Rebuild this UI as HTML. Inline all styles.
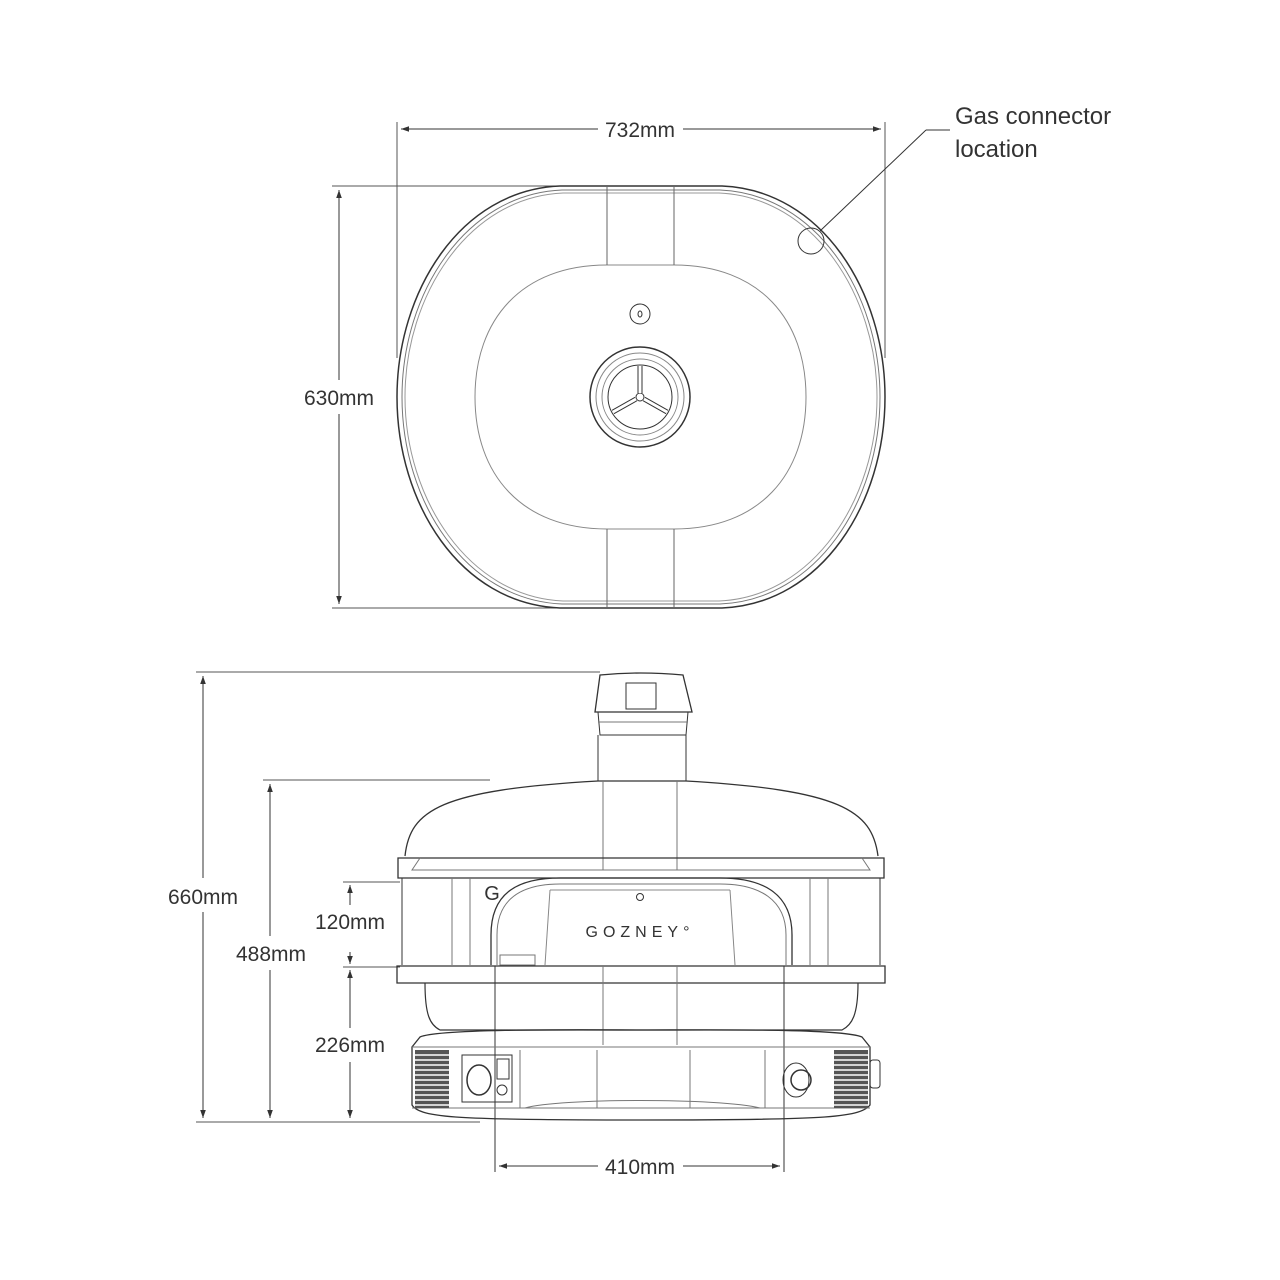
<!DOCTYPE html>
<html><head><meta charset="utf-8"><style>
html,body{margin:0;padding:0;background:#fff;}
svg{display:block;}
text{font-family:"Liberation Sans",sans-serif;fill:#333;}
</style></head><body>
<svg width="1280" height="1280" viewBox="0 0 1280 1280" xmlns="http://www.w3.org/2000/svg">
<defs>
<marker id="a" viewBox="0 0 10 10" refX="10" refY="5" markerWidth="8" markerHeight="8" orient="auto-start-reverse"><path d="M0,1.5 L10,5 L0,8.5 Z" fill="#333"/></marker>
</defs>
<g stroke="#333" fill="none" stroke-width="1">
<line x1="397" y1="122" x2="397" y2="358" stroke="#555"/>
<line x1="885" y1="122" x2="885" y2="358" stroke="#555"/>
<line x1="401" y1="129" x2="598" y2="129" marker-start="url(#a)"/>
<line x1="683" y1="129" x2="881" y2="129" marker-end="url(#a)"/>
<line x1="332" y1="186" x2="566" y2="186" stroke="#555"/>
<line x1="332" y1="608" x2="566" y2="608" stroke="#555"/>
<line x1="339" y1="190" x2="339" y2="380" marker-start="url(#a)"/>
<line x1="339" y1="414" x2="339" y2="604" marker-end="url(#a)"/>
<path d="M560 186 L722 186 C822 190 885 292 885 397 C885 503 822 604 722 608 L560 608 C460 604 397 503 397 397 C397 292 460 190 560 186 Z" stroke-width="1.5"/>
<path d="M562 190 L720 190 C817 194 880 294 880 397 C880 501 817 600 720 604 L562 604 C465 600 402 501 402 397 C402 294 465 194 562 190 Z" stroke="#777"/>
<path d="M563 193 L719 193 C814 197 877 296 877 397 C877 498 814 597 719 601 L563 601 C468 597 405 498 405 397 C405 296 468 197 563 193 Z" stroke="#999"/>
<path d="M607 265 L674 265 C760 265 806 320 806 397 C806 474 760 529 674 529 L607 529 C521 529 475 474 475 397 C475 320 521 265 607 265 Z" stroke="#888"/>
<line x1="607" y1="186" x2="607" y2="265" stroke="#666"/>
<line x1="674" y1="186" x2="674" y2="265" stroke="#666"/>
<line x1="607" y1="529" x2="607" y2="608" stroke="#666"/>
<line x1="674" y1="529" x2="674" y2="608" stroke="#666"/>
<circle cx="640" cy="314" r="10"/>
<ellipse cx="640" cy="314" rx="2" ry="3"/>
<circle cx="640" cy="397" r="50" stroke-width="1.5"/>
<circle cx="640" cy="397" r="44" stroke="#888"/>
<circle cx="640" cy="397" r="38" stroke="#888"/>
<circle cx="640" cy="397" r="32"/>
<circle cx="640" cy="397" r="4"/>
<path d="M640 393 L640 366 M636 399 L613 412 M644 399 L667 412" stroke-width="5" stroke="#333"/>
<path d="M640 393 L640 366 M636 399 L613 412 M644 399 L667 412" stroke-width="3" stroke="#fff"/>
<circle cx="811" cy="241" r="13"/>
<line x1="820" y1="231" x2="926" y2="130"/>
<line x1="926" y1="130" x2="950" y2="130"/>

<line x1="196" y1="672" x2="600" y2="672" stroke="#555"/>
<line x1="196" y1="1122" x2="480" y2="1122" stroke="#555"/>
<line x1="263" y1="780" x2="490" y2="780" stroke="#555"/>
<line x1="343" y1="882" x2="400" y2="882" stroke="#555"/>
<line x1="343" y1="967" x2="400" y2="967" stroke="#555"/>
<line x1="203" y1="676" x2="203" y2="878" marker-start="url(#a)"/>
<line x1="203" y1="912" x2="203" y2="1118" marker-end="url(#a)"/>
<line x1="270" y1="784" x2="270" y2="936" marker-start="url(#a)"/>
<line x1="270" y1="970" x2="270" y2="1118" marker-end="url(#a)"/>
<line x1="350" y1="885" x2="350" y2="905" marker-start="url(#a)"/>
<line x1="350" y1="952" x2="350" y2="964" marker-end="url(#a)"/>
<line x1="350" y1="970" x2="350" y2="1028" marker-start="url(#a)"/>
<line x1="350" y1="1062" x2="350" y2="1118" marker-end="url(#a)"/>
<line x1="495" y1="966" x2="495" y2="1172"/>
<line x1="784" y1="966" x2="784" y2="1172"/>
<line x1="499" y1="1166" x2="598" y2="1166" marker-start="url(#a)"/>
<line x1="683" y1="1166" x2="780" y2="1166" marker-end="url(#a)"/>

<path d="M600 675 Q640 671 683 675 L692 712 L595 712 Z" stroke-width="1.3"/>
<rect x="626" y="683" width="30" height="26" />
<path d="M598 712 L688 712 L686 735 L600 735 Z"/>
<line x1="598" y1="722" x2="688" y2="722" stroke="#777"/>
<path d="M598 735 L598 781 M686 735 L686 781"/>
<path d="M405 856 C410 810 440 790 598 781 L686 781 C840 790 872 810 878 856" stroke-width="1.3"/>
<line x1="603" y1="781" x2="603" y2="870" stroke="#777"/>
<line x1="677" y1="781" x2="677" y2="870" stroke="#777"/>
<path d="M398 858 L884 858 L884 878 L398 878 Z" stroke-width="1.3"/>
<path d="M420 858 L412 870 L870 870 L862 858" stroke="#777"/>
<path d="M402 878 L402 965 M880 878 L880 965"/>
<line x1="452" y1="878" x2="452" y2="965" stroke="#777"/>
<line x1="470" y1="878" x2="470" y2="965" stroke="#777"/>
<line x1="810" y1="878" x2="810" y2="965" stroke="#777"/>
<line x1="828" y1="878" x2="828" y2="965" stroke="#777"/>
<path d="M491 965 L491 935 C491 895 515 878 560 878 L720 878 C765 878 792 895 792 935 L792 965" stroke-width="1.3"/>
<path d="M497 965 L497 935 C497 900 520 884 560 884 L720 884 C760 884 786 900 786 935 L786 965" stroke="#777"/>
<line x1="550" y1="890" x2="545" y2="965" stroke="#888"/>
<line x1="730" y1="890" x2="735" y2="965" stroke="#888"/>
<line x1="550" y1="890" x2="730" y2="890" stroke="#888"/>
<circle cx="640" cy="897" r="3.5"/>
<rect x="500" y="955" width="35" height="10" stroke="#777"/>
<path d="M397 966 L885 966 L885 983 L397 983 Z" stroke-width="1.3"/>
<path d="M425 983 C425 1015 430 1025 440 1030 L842 1030 C852 1025 858 1015 858 983" stroke-width="1.2"/>
<line x1="603" y1="966" x2="603" y2="1045" stroke="#777"/>
<line x1="677" y1="966" x2="677" y2="1045" stroke="#777"/>
<path d="M420 1037 C440 1028 600 1030 640 1030 C700 1030 840 1028 862 1037 L870 1047 L870 1105 C860 1118 820 1120 640 1120 C460 1120 420 1118 412 1105 L412 1047 Z" stroke-width="1.3"/>
<line x1="412" y1="1047" x2="870" y2="1047" stroke="#777"/>
<line x1="412" y1="1108" x2="870" y2="1108" stroke="#777"/>
<rect x="415" y="1050" width="34" height="58" fill="#555" stroke="none"/>
<rect x="834" y="1050" width="34" height="58" fill="#555" stroke="none"/>
<g stroke="#fff" stroke-width="1.4">
<line x1="415" y1="1055" x2="449" y2="1055"/><line x1="415" y1="1060" x2="449" y2="1060"/><line x1="415" y1="1065" x2="449" y2="1065"/><line x1="415" y1="1070" x2="449" y2="1070"/><line x1="415" y1="1075" x2="449" y2="1075"/><line x1="415" y1="1080" x2="449" y2="1080"/><line x1="415" y1="1085" x2="449" y2="1085"/><line x1="415" y1="1090" x2="449" y2="1090"/><line x1="415" y1="1095" x2="449" y2="1095"/><line x1="415" y1="1100" x2="449" y2="1100"/><line x1="415" y1="1105" x2="449" y2="1105"/>
<line x1="834" y1="1055" x2="868" y2="1055"/><line x1="834" y1="1060" x2="868" y2="1060"/><line x1="834" y1="1065" x2="868" y2="1065"/><line x1="834" y1="1070" x2="868" y2="1070"/><line x1="834" y1="1075" x2="868" y2="1075"/><line x1="834" y1="1080" x2="868" y2="1080"/><line x1="834" y1="1085" x2="868" y2="1085"/><line x1="834" y1="1090" x2="868" y2="1090"/><line x1="834" y1="1095" x2="868" y2="1095"/><line x1="834" y1="1100" x2="868" y2="1100"/><line x1="834" y1="1105" x2="868" y2="1105"/>
</g>
<rect x="462" y="1055" width="50" height="47"/>
<ellipse cx="479" cy="1080" rx="12" ry="15" stroke-width="1.5"/>
<rect x="497" y="1059" width="12" height="20"/>
<circle cx="502" cy="1090" r="5"/>
<line x1="520" y1="1050" x2="520" y2="1108" stroke="#777"/>
<line x1="597" y1="1050" x2="597" y2="1108" stroke="#777"/>
<line x1="690" y1="1050" x2="690" y2="1108" stroke="#777"/>
<line x1="765" y1="1050" x2="765" y2="1108" stroke="#777"/>
<path d="M525 1108 C560 1098 720 1098 760 1108" stroke="#777"/>
<ellipse cx="796" cy="1080" rx="13" ry="17"/>
<circle cx="801" cy="1080" r="10" stroke-width="1.5"/>
<rect x="870" y="1060" width="10" height="28" rx="3"/>
</g>
<text x="640" y="937" font-size="16" text-anchor="middle" letter-spacing="5" fill="#444">GOZNEY°</text>
<text x="492" y="900" font-size="20" text-anchor="middle" fill="#333">G</text>
<g font-size="21">
<text x="640" y="137" text-anchor="middle">732mm</text>
<text x="339" y="405" text-anchor="middle">630mm</text>
<text x="955" y="124" font-size="24">Gas connector</text>
<text x="955" y="157" font-size="24">location</text>
<text x="203" y="904" text-anchor="middle">660mm</text>
<text x="271" y="961" text-anchor="middle">488mm</text>
<text x="350" y="929" text-anchor="middle">120mm</text>
<text x="350" y="1052" text-anchor="middle">226mm</text>
<text x="640" y="1174" text-anchor="middle">410mm</text>
</g>
</svg>
</body></html>
